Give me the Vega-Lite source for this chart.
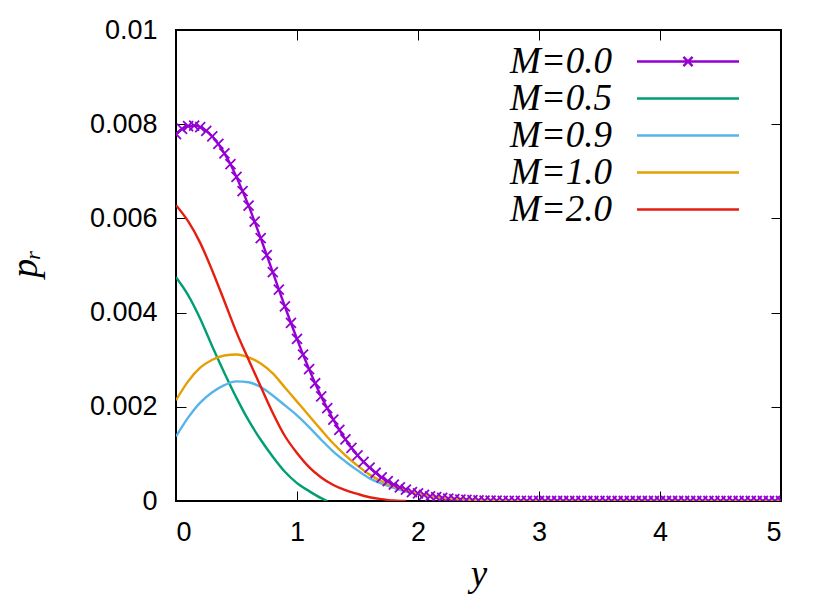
{
"$schema": "https://vega.github.io/schema/vega-lite/v6.json",
"width": 605, "height": 471,
"autosize": {"type": "none"},
"padding": {"left": 176, "top": 30, "right": 49, "bottom": 93},
"background": "white",
"config": {"view": {"stroke": "black", "strokeWidth": 2}, "font": "Liberation Sans"},
"datasets": {
"pts": [
{"M":"M=0.0","y":0,"p":0.00779},{"M":"M=0.0","y":0.05,"p":0.0079},{"M":"M=0.0","y":0.1,"p":0.00796},{"M":"M=0.0","y":0.15,"p":0.00797},{"M":"M=0.0","y":0.2,"p":0.00794},{"M":"M=0.0","y":0.25,"p":0.00786},{"M":"M=0.0","y":0.3,"p":0.00774},{"M":"M=0.0","y":0.35,"p":0.00758},{"M":"M=0.0","y":0.4,"p":0.00738},{"M":"M=0.0","y":0.45,"p":0.00715},{"M":"M=0.0","y":0.5,"p":0.00688},{"M":"M=0.0","y":0.55,"p":0.00658},{"M":"M=0.0","y":0.6,"p":0.00627},{"M":"M=0.0","y":0.65,"p":0.00593},{"M":"M=0.0","y":0.7,"p":0.00558},{"M":"M=0.0","y":0.75,"p":0.00522},{"M":"M=0.0","y":0.8,"p":0.00486},{"M":"M=0.0","y":0.85,"p":0.00449},{"M":"M=0.0","y":0.9,"p":0.00413},{"M":"M=0.0","y":0.95,"p":0.00378},{"M":"M=0.0","y":1.0,"p":0.00344},{"M":"M=0.0","y":1.05,"p":0.00311},{"M":"M=0.0","y":1.1,"p":0.0028},{"M":"M=0.0","y":1.15,"p":0.0025},{"M":"M=0.0","y":1.2,"p":0.00222},{"M":"M=0.0","y":1.25,"p":0.00197},{"M":"M=0.0","y":1.3,"p":0.00173},{"M":"M=0.0","y":1.35,"p":0.00151},{"M":"M=0.0","y":1.4,"p":0.00131},{"M":"M=0.0","y":1.45,"p":0.00113},{"M":"M=0.0","y":1.5,"p":0.00097},{"M":"M=0.0","y":1.55,"p":0.00083},{"M":"M=0.0","y":1.6,"p":0.00071},{"M":"M=0.0","y":1.65,"p":0.0006},{"M":"M=0.0","y":1.7,"p":0.0005},{"M":"M=0.0","y":1.75,"p":0.00042},{"M":"M=0.0","y":1.8,"p":0.00035},{"M":"M=0.0","y":1.85,"p":0.00029},{"M":"M=0.0","y":1.9,"p":0.00024},{"M":"M=0.0","y":1.95,"p":0.00019},{"M":"M=0.0","y":2.0,"p":0.00016},{"M":"M=0.0","y":2.05,"p":0.00013},{"M":"M=0.0","y":2.1,"p":0.0001},{"M":"M=0.0","y":2.15,"p":0.00008},{"M":"M=0.0","y":2.2,"p":0.000064},{"M":"M=0.0","y":2.25,"p":0.000051},{"M":"M=0.0","y":2.3,"p":0.00004},{"M":"M=0.0","y":2.35,"p":0.000031},{"M":"M=0.0","y":2.4,"p":0.000024},{"M":"M=0.0","y":2.45,"p":0.000018},{"M":"M=0.0","y":2.5,"p":0.000014},{"M":"M=0.0","y":2.55,"p":0.00001},{"M":"M=0.0","y":2.6,"p":0.000008},{"M":"M=0.0","y":2.65,"p":0.000006},{"M":"M=0.0","y":2.7,"p":0.000004},{"M":"M=0.0","y":2.75,"p":0.000003},{"M":"M=0.0","y":2.8,"p":0.000002},{"M":"M=0.0","y":2.85,"p":0.000002},{"M":"M=0.0","y":2.9,"p":0.000001},{"M":"M=0.0","y":2.95,"p":0.000001},{"M":"M=0.0","y":3.0,"p":0.000001},{"M":"M=0.0","y":3.05,"p":0},{"M":"M=0.0","y":3.1,"p":0},{"M":"M=0.0","y":3.15,"p":0},{"M":"M=0.0","y":3.2,"p":0},{"M":"M=0.0","y":3.25,"p":0},{"M":"M=0.0","y":3.3,"p":0},{"M":"M=0.0","y":3.35,"p":0},{"M":"M=0.0","y":3.4,"p":0},{"M":"M=0.0","y":3.45,"p":0},{"M":"M=0.0","y":3.5,"p":0},{"M":"M=0.0","y":3.55,"p":0},{"M":"M=0.0","y":3.6,"p":0},{"M":"M=0.0","y":3.65,"p":0},{"M":"M=0.0","y":3.7,"p":0},{"M":"M=0.0","y":3.75,"p":0},{"M":"M=0.0","y":3.8,"p":0},{"M":"M=0.0","y":3.85,"p":0},{"M":"M=0.0","y":3.9,"p":0},{"M":"M=0.0","y":3.95,"p":0},{"M":"M=0.0","y":4.0,"p":0},{"M":"M=0.0","y":4.05,"p":0},{"M":"M=0.0","y":4.1,"p":0},{"M":"M=0.0","y":4.15,"p":0},{"M":"M=0.0","y":4.2,"p":0},{"M":"M=0.0","y":4.25,"p":0},{"M":"M=0.0","y":4.3,"p":0},{"M":"M=0.0","y":4.35,"p":0},{"M":"M=0.0","y":4.4,"p":0},{"M":"M=0.0","y":4.45,"p":0},{"M":"M=0.0","y":4.5,"p":0},{"M":"M=0.0","y":4.55,"p":0},{"M":"M=0.0","y":4.6,"p":0},{"M":"M=0.0","y":4.65,"p":0},{"M":"M=0.0","y":4.7,"p":0},{"M":"M=0.0","y":4.75,"p":0},{"M":"M=0.0","y":4.8,"p":0},{"M":"M=0.0","y":4.85,"p":0},{"M":"M=0.0","y":4.9,"p":0},{"M":"M=0.0","y":4.95,"p":0},{"M":"M=0.0","y":5.0,"p":0},
{"M":"M=0.5","y":0,"p":0.00475},{"M":"M=0.5","y":0.1,"p":0.00437},{"M":"M=0.5","y":0.2,"p":0.00387},{"M":"M=0.5","y":0.3,"p":0.00328},{"M":"M=0.5","y":0.4,"p":0.00272},{"M":"M=0.5","y":0.5,"p":0.00219},{"M":"M=0.5","y":0.6,"p":0.00171},{"M":"M=0.5","y":0.7,"p":0.0013},{"M":"M=0.5","y":0.8,"p":0.00094},{"M":"M=0.5","y":0.9,"p":0.00062},{"M":"M=0.5","y":1.0,"p":0.00038},{"M":"M=0.5","y":1.1,"p":0.00021},{"M":"M=0.5","y":1.2,"p":0.00006},{"M":"M=0.5","y":1.25,"p":0},
{"M":"M=0.9","y":0,"p":0.00137},{"M":"M=0.9","y":0.1,"p":0.00177},{"M":"M=0.9","y":0.2,"p":0.00209},{"M":"M=0.9","y":0.3,"p":0.00231},{"M":"M=0.9","y":0.4,"p":0.00246},{"M":"M=0.9","y":0.5,"p":0.00254},{"M":"M=0.9","y":0.6,"p":0.00252},{"M":"M=0.9","y":0.7,"p":0.00242},{"M":"M=0.9","y":0.8,"p":0.00224},{"M":"M=0.9","y":0.9,"p":0.00203},{"M":"M=0.9","y":1.0,"p":0.00182},{"M":"M=0.9","y":1.1,"p":0.00157},{"M":"M=0.9","y":1.2,"p":0.0013},{"M":"M=0.9","y":1.3,"p":0.00105},{"M":"M=0.9","y":1.4,"p":0.00084},{"M":"M=0.9","y":1.5,"p":0.00065},{"M":"M=0.9","y":1.6,"p":0.00048},{"M":"M=0.9","y":1.7,"p":0.00037},{"M":"M=0.9","y":1.8,"p":0.00028},{"M":"M=0.9","y":1.9,"p":0.0002},{"M":"M=0.9","y":2.0,"p":0.00014},{"M":"M=0.9","y":2.1,"p":0.0001},{"M":"M=0.9","y":2.2,"p":0.00007},{"M":"M=0.9","y":2.3,"p":0.00004},{"M":"M=0.9","y":2.4,"p":0.00003},{"M":"M=0.9","y":2.5,"p":0.00002},{"M":"M=0.9","y":2.6,"p":0.00001},{"M":"M=0.9","y":2.8,"p":0},{"M":"M=0.9","y":5.0,"p":0},
{"M":"M=1.0","y":0,"p":0.00214},{"M":"M=1.0","y":0.1,"p":0.00254},{"M":"M=1.0","y":0.2,"p":0.00283},{"M":"M=1.0","y":0.3,"p":0.003},{"M":"M=1.0","y":0.4,"p":0.00309},{"M":"M=1.0","y":0.5,"p":0.00311},{"M":"M=1.0","y":0.6,"p":0.00305},{"M":"M=1.0","y":0.7,"p":0.00292},{"M":"M=1.0","y":0.8,"p":0.00271},{"M":"M=1.0","y":0.9,"p":0.00241},{"M":"M=1.0","y":1.0,"p":0.00211},{"M":"M=1.0","y":1.1,"p":0.00181},{"M":"M=1.0","y":1.2,"p":0.00151},{"M":"M=1.0","y":1.3,"p":0.00122},{"M":"M=1.0","y":1.4,"p":0.00097},{"M":"M=1.0","y":1.5,"p":0.00075},{"M":"M=1.0","y":1.6,"p":0.00056},{"M":"M=1.0","y":1.7,"p":0.00042},{"M":"M=1.0","y":1.8,"p":0.00031},{"M":"M=1.0","y":1.9,"p":0.00022},{"M":"M=1.0","y":2.0,"p":0.00016},{"M":"M=1.0","y":2.1,"p":0.00011},{"M":"M=1.0","y":2.2,"p":0.00007},{"M":"M=1.0","y":2.3,"p":0.00005},{"M":"M=1.0","y":2.4,"p":0.00003},{"M":"M=1.0","y":2.5,"p":0.00002},{"M":"M=1.0","y":2.6,"p":0.00001},{"M":"M=1.0","y":2.8,"p":0},{"M":"M=1.0","y":5.0,"p":0},
{"M":"M=2.0","y":0,"p":0.00628},{"M":"M=2.0","y":0.1,"p":0.00594},{"M":"M=2.0","y":0.2,"p":0.00548},{"M":"M=2.0","y":0.3,"p":0.00489},{"M":"M=2.0","y":0.4,"p":0.00424},{"M":"M=2.0","y":0.5,"p":0.00358},{"M":"M=2.0","y":0.6,"p":0.003},{"M":"M=2.0","y":0.7,"p":0.00243},{"M":"M=2.0","y":0.8,"p":0.00187},{"M":"M=2.0","y":0.9,"p":0.00138},{"M":"M=2.0","y":1.0,"p":0.00102},{"M":"M=2.0","y":1.1,"p":0.00072},{"M":"M=2.0","y":1.2,"p":0.0005},{"M":"M=2.0","y":1.3,"p":0.00034},{"M":"M=2.0","y":1.4,"p":0.00023},{"M":"M=2.0","y":1.5,"p":0.00015},{"M":"M=2.0","y":1.6,"p":0.00008},{"M":"M=2.0","y":1.7,"p":0.00004},{"M":"M=2.0","y":1.8,"p":0.00001},{"M":"M=2.0","y":1.9,"p":0}
]},
"data": {"name": "pts"},
"layer": [
{
"mark": {"type": "line", "strokeWidth": 2.4, "interpolate": "monotone", "clip": true},
"encoding": {
"x": {"field": "y", "type": "quantitative", "scale": {"domain": [0, 5], "nice": false},
"axis": {"orient": "bottom", "values": [0,1,2,3,4,5], "grid": false, "domain": false, "tickColor": "black", "tickWidth": 1, "tickSize": -10, "labelFontSize": 27, "labelColor": "black", "labelPadding": 28, "labelFont": "Liberation Sans",
"title": "y", "titleFont": "Liberation Serif", "titleFontStyle": "italic", "titleFontWeight": "normal", "titleFontSize": 37, "titleColor": "black", "titleBaseline": "alphabetic", "titleY": 84}},
"y": {"field": "p", "type": "quantitative", "scale": {"domain": [0, 0.01], "nice": false},
"axis": {"orient": "left", "values": [0,0.002,0.004,0.006,0.008,0.01], "format": "~g", "grid": false, "domain": false, "tickColor": "black", "tickWidth": 1, "tickSize": -10, "labelFontSize": 27, "labelColor": "black", "labelPadding": 29, "labelFont": "Liberation Sans",
"title": "pᵣ", "titleFont": "Liberation Serif", "titleFontStyle": "italic", "titleFontWeight": "normal", "titleFontSize": 38, "titleColor": "black", "titleAngle": -90, "titleBaseline": "alphabetic", "titleAlign": "center", "titleX": -140, "titleY": 233}},
"color": {"field": "M", "type": "nominal",
"scale": {"domain": ["M=0.0","M=0.5","M=0.9","M=1.0","M=2.0"], "range": ["#9400d3","#009e73","#56b4e9","#e69f00","#e51e10"]},
"legend": {"orient": "none", "legendX": 461, "legendY": 13, "title": null, "padding": 0,
"labelFont": "Liberation Serif", "labelFontStyle": "italic", "labelFontSize": 37, "labelColor": "black", "labelAlign": "right", "labelOffset": -62, "labelLimit": 0,
"symbolSize": 100, "symbolStrokeWidth": 2.4, "symbolType": "M-10.2,0H10.2", "rowPadding": -1,
"encode": {"symbols": {"update": {"shape": {"signal": "datum.value === 'M=0.0' ? 'M-10.2,0H10.2M-0.92,-0.92L0.92,0.92M-0.92,0.92L0.92,-0.92' : 'M-10.2,0H10.2'"}, "fill": {"value": "transparent"}, "x": {"value": 51}}}}}}
}
},
{
"transform": [{"filter": "datum.M === 'M=0.0'"}],
"mark": {"type": "point", "shape": "M-1,-1L1,1M-1,1L1,-1", "size": 100, "filled": false, "strokeWidth": 1.8, "color": "#9400d3", "opacity": 1, "clip": true},
"encoding": {
"x": {"field": "y", "type": "quantitative", "axis": {"orient": "top", "values": [0,1,2,3,4,5], "grid": false, "domain": false, "labels": false, "title": null, "tickColor": "black", "tickWidth": 1, "tickSize": -10}},
"y": {"field": "p", "type": "quantitative", "axis": {"orient": "right", "values": [0,0.002,0.004,0.006,0.008,0.01], "grid": false, "domain": false, "labels": false, "title": null, "tickColor": "black", "tickWidth": 1, "tickSize": -10}}
}
}
],
"resolve": {"axis": {"x": "independent", "y": "independent"}}
}
